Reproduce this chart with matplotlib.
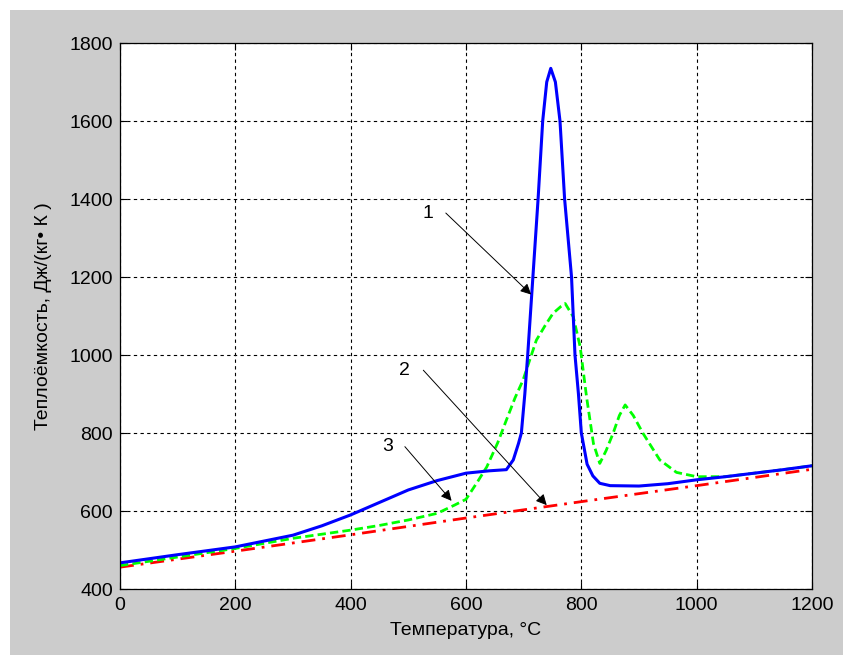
import matplotlib
matplotlib.use('Agg')
import matplotlib.pyplot as plt
from matplotlib.patches import Rectangle

plt.rcParams['font.family'] = ['Liberation Sans', 'DejaVu Sans']

# curve 1 (blue, solid)
t1 = [0, 100, 200, 300, 350, 400, 450, 500, 550, 600, 640, 670, 682, 691, 696,
      702, 707, 716, 725, 733, 740, 747, 755, 763, 771, 783, 789, 795, 800, 810,
      820, 832, 850, 900, 950, 1000, 1050, 1100, 1150, 1200]
c1 = [467, 488, 508, 538, 562, 590, 622, 654, 678, 697, 703, 706, 731, 773, 800,
      900, 1000, 1200, 1400, 1600, 1700, 1735, 1700, 1600, 1400, 1200, 1000, 900, 800, 720,
      690, 671, 665, 664, 670, 680, 688, 697, 706, 716]

# curve 2 (green, dashed)
t2 = [0, 100, 200, 300, 400, 450, 500, 550, 580, 600, 620, 636, 655, 670, 685,
      699, 710, 722, 737, 751, 765, 772, 786, 798, 809, 821, 832, 843, 855, 866,
      876, 890, 907, 936, 965, 1000, 1050, 1100, 1150, 1200]
c2 = [460, 482, 504, 530, 551, 563, 577, 594, 615, 630, 675, 713, 775, 833, 890,
      936, 985, 1038, 1075, 1107, 1125, 1132, 1098, 1021, 893, 773, 722, 755, 799, 845,
      872, 845, 799, 731, 699, 688, 688, 697, 706, 716]

# curve 3 (red, dash-dot)
t3 = [0, 200, 400, 600, 800, 1000, 1200]
c3 = [456, 497, 539, 582, 624, 665, 707]

# annotations: label, text position, arrow start, arrow tip
labels = ['1', '2', '3']
label_pos = [(534, 1364), (494, 961), (465, 765)]
arrow_from = [(565, 1364), (526, 961), (494, 765)]
arrow_to = [(713, 1155), (740, 615), (575, 626)]

fig = plt.figure(figsize=(8.43, 6.55), dpi=100, facecolor='white')
fig.patches.append(Rectangle((10 / 843, 0), 1, 1 - 10 / 655, transform=fig.transFigure,
                             facecolor='#cccccc', edgecolor='none', zorder=-10))

ax = fig.add_axes([120 / 843, 1 - 589 / 655, 692 / 843, 546 / 655])
ax.set_facecolor('white')

ax.plot(t3, c3, color='red', lw=2, linestyle=(0, (5, 2.5, 1, 2.5)))
ax.plot(t2, c2, color='#00ff00', lw=2, linestyle=(0, (3, 1.5)))
ax.plot(t1, c1, color='blue', lw=2.2)

for lab, tp, a0, a1 in zip(labels, label_pos, arrow_from, arrow_to):
    ax.text(tp[0], tp[1], lab, fontsize=14, ha='center', va='center')
    ax.annotate('', xy=a1, xytext=a0,
                arrowprops=dict(arrowstyle='-|>', color='black', lw=0.7,
                                mutation_scale=16, shrinkA=0, shrinkB=0))

ax.set_xlim(0, 1200)
ax.set_ylim(400, 1800)
ax.set_xticks(range(0, 1201, 200))
ax.set_yticks(range(400, 1801, 200))
ax.grid(True, color='black', linestyle=(0, (3, 3)), lw=0.8)
ax.tick_params(direction='in', length=5, width=0.8, top=True, right=True,
               labelsize=14, colors='black')
ax.tick_params(axis='x', pad=6)
ax.tick_params(axis='y', pad=5)
for s in ax.spines.values():
    s.set_linewidth(0.9)

ax.set_xlabel('Температура, °C', fontsize=14)
ax.set_ylabel('Теплоёмкость, Дж/(кг• К )', fontsize=14)
ax.xaxis.set_label_coords(0.5, -0.06)
ax.yaxis.set_label_coords(-0.098, 0.5)

fig.savefig('out.png', dpi=100, facecolor=fig.get_facecolor())
